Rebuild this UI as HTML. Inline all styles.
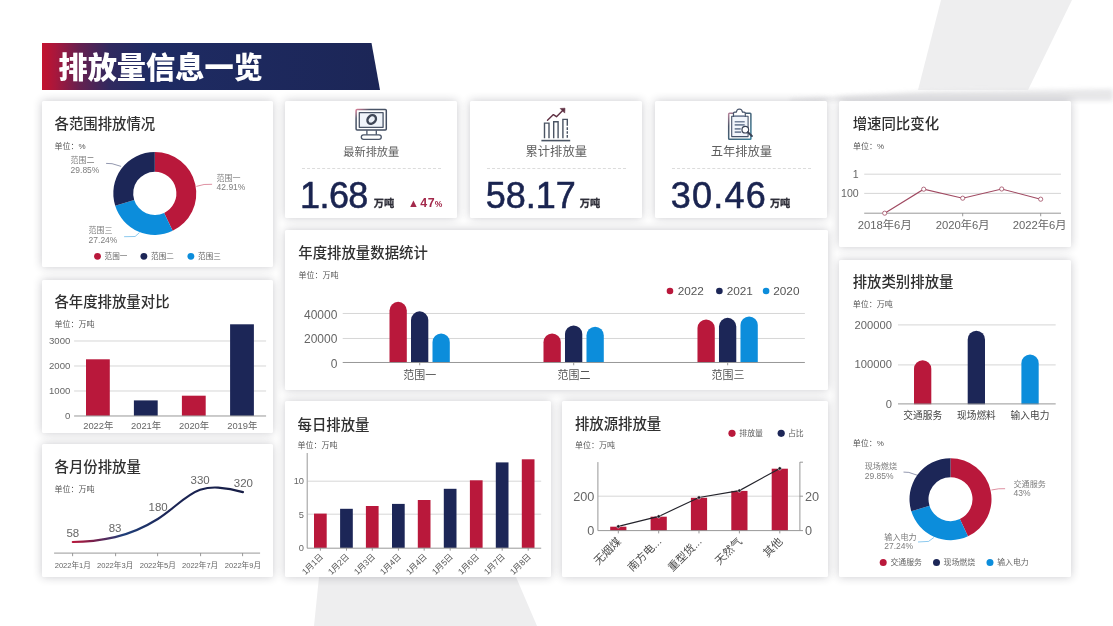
<!DOCTYPE html>
<html lang="zh-CN">
<head>
<meta charset="utf-8">
<title>排放量信息一览</title>
<style>
*{box-sizing:border-box;margin:0;padding:0}
html,body{width:1113px;height:626px;overflow:hidden;background:#fff}
body{font-family:"Liberation Sans","Noto Sans CJK SC",sans-serif;color:#333;position:relative}
#bg{position:absolute;left:0;top:0;width:1113px;height:626px}
.banner{position:absolute;left:42px;top:43px;width:338px;height:47px;
  background:linear-gradient(90deg,#c3132f 0%,#a8173c 4%,#66204f 11%,#30295f 20%,#1e2b63 32%,#1c2657 100%);
  clip-path:polygon(0 0,329.5px 0,338px 100%,0 100%);}
.banner h1{position:absolute;left:16.5px;top:5px;font-size:29.2px;line-height:40px;font-weight:900;color:#fff;white-space:nowrap;letter-spacing:0}
.card{position:absolute;background:#fff;border-radius:1.5px;box-shadow:0 0 10px rgba(30,30,45,.24)}
.card svg{position:absolute;left:0;top:0;width:100%;height:100%;overflow:visible}
.card h3{position:absolute;font-size:14.4px;line-height:20px;font-weight:500;color:#303030;white-space:nowrap}
.unit{position:absolute;font-size:8px;line-height:10px;color:#555;white-space:nowrap}
svg text{font-family:"Liberation Sans","Noto Sans CJK SC",sans-serif}
.kpi .lbl{position:absolute;left:0;width:100%;text-align:center;top:43.3px;font-size:11.2px;line-height:16px;color:#5e5e5e}
.kpi .dash{position:absolute;left:16.5px;right:16.5px;top:67.3px;border-top:1px dashed #dcdcdc}
.kpi .num{position:absolute;left:14.8px;top:75.1px;font-size:36px;line-height:40px;color:#1a2450;white-space:nowrap;letter-spacing:0;-webkit-text-stroke:.55px #1a2450}
.kpi .num small{font-size:10.2px;font-weight:700;letter-spacing:0;-webkit-text-stroke:.3px #2e2e38;color:#2e2e38;position:relative;top:-1px}
.kpi .up{position:absolute;top:95.1px;font-size:12.4px;line-height:14px;font-weight:700;color:#a3294b;white-space:nowrap;letter-spacing:.7px}
.kpi .up i{font-style:normal;font-size:11px;vertical-align:0;margin-right:1.2px;letter-spacing:0;line-height:10px}
.kpi .up b{font-size:8.5px;letter-spacing:0;margin-left:-.5px}
</style>
</head>
<body>
<svg id="bg" viewBox="0 0 1113 626">
  <defs>
    <linearGradient id="hb" x1="0" y1="0" x2="0" y2="1"><stop offset="0" stop-color="#e9e9ea" stop-opacity="0"/><stop offset=".55" stop-color="#e4e4e6" stop-opacity=".9"/><stop offset="1" stop-color="#f4f4f5" stop-opacity="0"/></linearGradient>
  <filter id="bl" x="-5%" y="-100%" width="110%" height="300%"><feGaussianBlur stdDeviation="2.2"/></filter>
  </defs>
  <polygon points="941,0 1072,0 1028,90 918,90" fill="#eeeeef"/>
  <polygon points="319,577 516,577 537,626 314,626" fill="#eeeeef"/>
  <polygon points="790,99 930,91 1113,89 1113,101 790,101" fill="#e3e3e5" filter="url(#bl)" opacity=".85"/>
</svg>

<div class="banner"><h1>排放量信息一览</h1></div>

<!-- card: 各范围排放情况 -->
<div class="card" style="left:41.9px;top:101.1px;width:230.9px;height:166.3px">
  <h3 style="left:12.6px;top:12.6px">各范围排放情况</h3>
  <div class="unit" style="left:12.6px;top:41.1px">单位：%</div>
  <svg viewBox="41.9 101.1 230.9 166.3">
    <path d="M154.70 152.00A41.5 41.5 0 0 1 172.58 230.95L164.01 212.99A21.6 21.6 0 0 0 154.70 171.90Z" fill="#b9183b"/>
    <path d="M172.58 230.95A41.5 41.5 0 0 1 115.11 205.95L134.10 199.98A21.6 21.6 0 0 0 164.01 212.99Z" fill="#0c8ddb"/>
    <path d="M115.11 205.95A41.5 41.5 0 0 1 154.70 152.00L154.70 171.90A21.6 21.6 0 0 0 134.10 199.98Z" fill="#1c2657"/>
    <g fill="none" stroke-width=".8">
      <path d="M196.2 186.5L204 184.6L212 184.4" stroke="#b9183b" stroke-opacity=".6"/>
      <path d="M121 166.5L112 163.8L106 163.5" stroke="#1c2657" stroke-opacity=".6"/>
      <path d="M139.5 232.6L135 236.6L124 236.8" stroke="#0c8ddb" stroke-opacity=".6"/>
    </g>
    <g font-size="8" fill="#7d7d7d">
      <text x="216.5" y="180.8">范围一</text><text x="216.5" y="190.6" font-size="8.5">42.91%</text>
      <text x="70.5" y="163.2">范围二</text><text x="70.5" y="173.2" font-size="8.5">29.85%</text>
      <text x="88.5" y="232.8">范围三</text><text x="88.5" y="242.8" font-size="8.5">27.24%</text>
    </g>
    <g font-size="7.6" fill="#666">
      <circle cx="97.4" cy="256.4" r="3.4" fill="#b9183b"/><text x="104.5" y="259.2">范围一</text>
      <circle cx="143.8" cy="256.4" r="3.4" fill="#1c2657"/><text x="151" y="259.2">范围二</text>
      <circle cx="190.8" cy="256.4" r="3.4" fill="#0c8ddb"/><text x="198" y="259.2">范围三</text>
    </g>
  </svg>
</div>
<!-- KPI cards -->
<div class="card kpi" style="left:285.3px;top:101.2px;width:171.9px;height:116.6px">
  <svg viewBox="285.3 101.2 171.9 116.6">
    <defs><linearGradient id="ig1" x1="0" y1="0" x2="1" y2="1"><stop offset="0" stop-color="#d98098"/><stop offset=".22" stop-color="#4a5568"/><stop offset="1" stop-color="#3f4a5e"/></linearGradient></defs>
    <g fill="none" stroke="url(#ig1)" stroke-width="1.5" stroke-linejoin="round">
      <rect x="356.4" y="109.7" width="30.2" height="20.6" rx="1"/>
      <rect x="359.6" y="112.9" width="23.8" height="14.6" fill="#f0f4fa" stroke="#4a5568" stroke-width="1.3"/>
      <path d="M367.2 130.5V135M376.6 130.5V135" stroke="#4a5568" stroke-width="1.3"/>
      <rect x="361.6" y="135" width="20" height="4.6" rx="2.3" stroke="#4a5568" stroke-width="1.3"/>
      <ellipse cx="372" cy="119.7" rx="4.6" ry="3.8" transform="rotate(-45 372 119.7)" stroke="#3f4757" stroke-width="2.5"/>
      <path d="M370.3 121.6L373.7 118" stroke="#e6ecf5" stroke-width="2" stroke-linecap="round"/>
    </g>
  </svg>
  <div class="lbl">最新排放量</div>
  <div class="dash"></div>
  <div class="num"><span style="letter-spacing:-.6px">1.68</span><small style="margin-left:6.1px">万吨</small></div>
  <div class="up" style="left:122.8px"><i>▲</i>47<b>%</b></div>
</div>
<div class="card kpi" style="left:470.3px;top:101.2px;width:171.9px;height:116.6px">
  <svg viewBox="470.3 101.2 171.9 116.6">
    <g fill="none" stroke="#4a5463" stroke-width="1.4" stroke-linejoin="miter">
      <path d="M544.8 138.4V123.3H549.3V138.4"/>
      <path d="M554 138.4V121.9H558.4V138.4"/>
      <path d="M563.2 138.4V119.6H567.6V126" />
      <path d="M567.6 127.5V138.4" stroke-dasharray="2.6 1.3"/>
      <path d="M541.7 140.8H570.5" stroke-width="1.6"/>
      <path d="M547.8 120.4L553.7 114.8L556.8 116.9L563 110.6" stroke="#5e2f42" stroke-linejoin="round" stroke-linecap="round"/>
      <path d="M560.5 108.7L565.3 108.4L565 113.3Z" fill="#5e2f42" stroke="#5e2f42" stroke-width=".6" stroke-linejoin="round"/>
    </g>
  </svg>
  <div class="lbl" style="font-size:12.3px">累计排放量</div>
  <div class="dash"></div>
  <div class="num" style="left:15.5px"><span style="letter-spacing:-.05px">58.17</span><small style="margin-left:4.2px">万吨</small></div>
</div>
<div class="card kpi" style="left:655.3px;top:101.2px;width:172.2px;height:116.6px">
  <svg viewBox="655.3 101.2 172.2 116.6">
    <defs><linearGradient id="ig3" x1="0" y1="0" x2="1" y2="1"><stop offset="0" stop-color="#b7849c"/><stop offset=".25" stop-color="#4a5568"/><stop offset="1" stop-color="#3a7f9a"/></linearGradient></defs>
    <g fill="none" stroke="#46536a" stroke-width="1.3" stroke-linejoin="round" stroke-linecap="round">
      <rect x="729" y="113.4" width="22.2" height="26" rx=".8" stroke="url(#ig3)" stroke-width="1.5"/>
      <rect x="732" y="116.4" width="16.4" height="20.4" fill="#f1f5fb" stroke-width="1.1"/>
      <path d="M733.8 116.6V113.6Q733.8 112.4 735 112.4H736.6Q737 109.4 739.7 109.2Q742.4 109.4 742.8 112.4H744.4Q745.6 112.4 745.6 113.6V116.6Z" fill="#fff" stroke-width="1.2"/>
      <path d="M735 116.2H744.4" stroke="#8a97ad" stroke-width="1.6"/>
      <path d="M735 122H745M735 125.1H745M735 129.1H741M735 132.3H741.5" stroke="#76849b" stroke-width="1.6" stroke-linecap="butt"/>
      <circle cx="745.6" cy="129.9" r="3.3" fill="#fff" stroke="#3a4356" stroke-width="1.2"/>
      <path d="M748.2 132.5L752.2 136.2" stroke="#3a4356" stroke-width="2"/>
    </g>
  </svg>
  <div class="lbl" style="font-size:12.3px">五年排放量</div>
  <div class="dash"></div>
  <div class="num" style="left:15.5px"><span style="letter-spacing:1.25px">30.46</span><small style="margin-left:2.8px">万吨</small></div>
</div>
<!-- card: 增速同比变化 -->
<div class="card" style="left:839.3px;top:101.3px;width:231.5px;height:146.2px">
  <h3 style="left:13.4px;top:12.5px">增速同比变化</h3>
  <div class="unit" style="left:13.7px;top:40.7px">单位：%</div>
  <svg viewBox="839.3 101.3 231.5 146.2">
    <g stroke="#cbcbcb" stroke-width=".8"><path d="M864.5 174.5H1061.3M864.5 193.7H1061.3"/></g>
    <path d="M864.5 213.5H1061.3M963 213.5V216.6M1041 213.5V216.6" stroke="#8c8c8c" stroke-width=".9" fill="none"/>
    <g font-size="10.6" fill="#666" text-anchor="end"><text x="859" y="178.4">1</text><text x="859" y="197.7">100</text></g>
    <polyline points="885,213.5 924,189.5 963,198.5 1002,189.3 1041,199.5" fill="none" stroke="#a04a62" stroke-width="1.15"/>
    <g fill="#fff" stroke="#a04a62" stroke-width=".8"><circle cx="885" cy="213.5" r="2.1"/><circle cx="924" cy="189.5" r="2.1"/><circle cx="963" cy="198.5" r="2.1"/><circle cx="1002" cy="189.3" r="2.1"/><circle cx="1041" cy="199.5" r="2.1"/></g>
    <g font-size="11.3" fill="#666" text-anchor="middle"><text x="885" y="229.4">2018年6月</text><text x="963" y="229.4">2020年6月</text><text x="1040" y="229.4">2022年6月</text></g>
  </svg>
</div>
<!-- card: 各年度排放量对比 -->
<div class="card" style="left:41.9px;top:279.5px;width:230.9px;height:153.6px">
  <h3 style="left:12.5px;top:12.6px">各年度排放量对比</h3>
  <div class="unit" style="left:12.6px;top:40.4px">单位：万吨</div>
  <svg viewBox="41.9 279.5 230.9 153.6">
    <g stroke="#cbcbcb" stroke-width=".8"><path d="M74 340.5H266M74 365.5H266M74 390.5H266"/></g>
    <g font-size="9.6" fill="#666" text-anchor="end"><text x="70.2" y="343.5">3000</text><text x="70.2" y="368.5">2000</text><text x="70.2" y="393.5">1000</text><text x="70.2" y="418.7">0</text></g>
    <rect x="85.9" y="358.8" width="23.8" height="56.5" fill="#b9183b"/>
    <rect x="133.8" y="399.9" width="23.8" height="15.4" fill="#1c2657"/>
    <rect x="181.8" y="395.2" width="23.8" height="20.1" fill="#b9183b"/>
    <rect x="230" y="323.8" width="23.8" height="91.5" fill="#1c2657"/>
    <path d="M74 415.5H266" stroke="#8c8c8c" stroke-width=".9"/>
    <g font-size="9.4" fill="#666" text-anchor="middle"><text x="98.2" y="429">2022年</text><text x="146" y="429">2021年</text><text x="194" y="429">2020年</text><text x="242.2" y="429">2019年</text></g>
  </svg>
</div>
<!-- card: 各月份排放量 -->
<div class="card" style="left:41.9px;top:444.4px;width:230.9px;height:132.6px">
  <h3 style="left:12.6px;top:12.4px">各月份排放量</h3>
  <div class="unit" style="left:12.6px;top:40.8px">单位：万吨</div>
  <svg viewBox="41.9 444.4 230.9 132.6">
    <defs><linearGradient id="lg" gradientUnits="userSpaceOnUse" x1="72" y1="0" x2="243" y2="0"><stop offset="0" stop-color="#b9183b"/><stop offset=".12" stop-color="#7a1f4a"/><stop offset=".3" stop-color="#1f3f7a"/><stop offset=".55" stop-color="#1c2657"/><stop offset="1" stop-color="#161d45"/></linearGradient></defs>
    <path d="M54 553.5H260M72.5 553.5V556.6M115.5 553.5V556.6M157.5 553.5V556.6M200.5 553.5V556.6M242.5 553.5V556.6" stroke="#8c8c8c" stroke-width=".9" fill="none"/>
    <path d="M72.7 542.4C90 542.4 100 540.8 115 537.5C132 533.5 144 528 157.7 519.4C174 509 186 495 200 490.2C207 488 212 487.6 218 488C228 488.6 236 490.5 242.8 492.5" fill="none" stroke="url(#lg)" stroke-width="2.2" stroke-linecap="round"/>
    <g font-size="11.5" fill="#666" text-anchor="middle"><text x="72.7" y="537.8">58</text><text x="115" y="532.6">83</text><text x="158" y="511">180</text><text x="200" y="484.6">330</text><text x="243.3" y="487.7">320</text></g>
    <g font-size="7.6" fill="#666" text-anchor="middle"><text x="72.7" y="568">2022年1月</text><text x="115" y="568">2022年3月</text><text x="157.7" y="568">2022年5月</text><text x="200" y="568">2022年7月</text><text x="242.8" y="568">2022年9月</text></g>
  </svg>
</div>
<!-- card: 年度排放量数据统计 -->
<div class="card" style="left:285.3px;top:230.0px;width:542.7px;height:159.7px">
  <h3 style="left:13px;top:12.9px">年度排放量数据统计</h3>
  <div class="unit" style="left:13.2px;top:40.8px">单位：万吨</div>
  <svg viewBox="285.3 230.0 542.7 159.7">
    <g stroke="#cbcbcb" stroke-width=".8"><path d="M343 313.5H805.2M343 338.5H805.2"/></g>
    <g font-size="12" fill="#666" text-anchor="end"><text x="337.6" y="319.1">40000</text><text x="337.6" y="343.4">20000</text><text x="337.6" y="367.8">0</text></g>
    <path d="M389.8 362.2V310.5A8.65 8.65 0 0 1 407.1 310.5V362.2Z" fill="#b9183b"/>
    <path d="M411.3 362.2V320.0A8.65 8.65 0 0 1 428.6 320.0V362.2Z" fill="#1c2657"/>
    <path d="M432.8 362.2V342.2A8.65 8.65 0 0 1 450.1 342.2V362.2Z" fill="#0c8ddb"/>
    <path d="M543.8 362.2V342.2A8.65 8.65 0 0 1 561.1 342.2V362.2Z" fill="#b9183b"/>
    <path d="M565.3 362.2V334.1A8.65 8.65 0 0 1 582.6 334.1V362.2Z" fill="#1c2657"/>
    <path d="M586.8 362.2V335.4A8.65 8.65 0 0 1 604.1 335.4V362.2Z" fill="#0c8ddb"/>
    <path d="M697.8 362.2V328.1A8.65 8.65 0 0 1 715.1 328.1V362.2Z" fill="#b9183b"/>
    <path d="M719.3 362.2V326.5A8.65 8.65 0 0 1 736.6 326.5V362.2Z" fill="#1c2657"/>
    <path d="M740.8 362.2V325.1A8.65 8.65 0 0 1 758.1 325.1V362.2Z" fill="#0c8ddb"/>
    <path d="M343 362.5H805.2M420 362.5V365.3M574 362.5V365.3M728 362.5V365.3" stroke="#8c8c8c" stroke-width=".9" fill="none"/>
    <g font-size="11" fill="#555" text-anchor="middle"><text x="420" y="379.1">范围一</text><text x="574.3" y="379.1">范围二</text><text x="728.3" y="379.1">范围三</text></g>
    <g font-size="11.8" fill="#555">
      <circle cx="670.3" cy="291" r="3.3" fill="#b9183b"/><text x="678" y="295.2">2022</text>
      <circle cx="719.7" cy="291" r="3.3" fill="#1c2657"/><text x="727" y="295.2">2021</text>
      <circle cx="766.4" cy="291" r="3.3" fill="#0c8ddb"/><text x="773.6" y="295.2">2020</text>
    </g>
  </svg>
</div>
<!-- card: 每日排放量 -->
<div class="card" style="left:285.3px;top:401.3px;width:265.5px;height:175.5px">
  <h3 style="left:12.2px;top:13.8px">每日排放量</h3>
  <div class="unit" style="left:12.3px;top:40.1px">单位：万吨</div>
  <svg viewBox="285.3 401.3 265.5 175.5">
    <g stroke="#cbcbcb" stroke-width=".8"><path d="M308 481.5H541.5M308 514.5H541.5"/></g>
    <g font-size="9.3" fill="#666" text-anchor="end"><text x="304.3" y="484.7">10</text><text x="304.3" y="518">5</text><text x="304.3" y="551.8">0</text></g>
    <rect x="314.3" y="513.9" width="12.7" height="34.3" fill="#b9183b"/>
    <rect x="340.4" y="509.1" width="12.7" height="39.1" fill="#1c2657"/>
    <rect x="366.2" y="506.3" width="12.7" height="41.9" fill="#b9183b"/>
    <rect x="392.3" y="504.2" width="12.7" height="44.0" fill="#1c2657"/>
    <rect x="418.1" y="500.3" width="12.7" height="47.9" fill="#b9183b"/>
    <rect x="444.1" y="489.1" width="12.7" height="59.1" fill="#1c2657"/>
    <rect x="470.2" y="480.6" width="12.7" height="67.6" fill="#b9183b"/>
    <rect x="496.1" y="462.7" width="12.7" height="85.5" fill="#1c2657"/>
    <rect x="522.1" y="459.6" width="12.7" height="88.6" fill="#b9183b"/>
    <path d="M307.5 453.3V548.5H541.5M320.7 548.2V551M346.8 548.2V551M372.6 548.2V551M398.7 548.2V551M424.5 548.2V551M450.5 548.2V551M476.6 548.2V551M502.5 548.2V551M528.5 548.2V551" stroke="#8c8c8c" stroke-width=".9" fill="none"/>
    <g font-size="8.5" fill="#555" text-anchor="end" letter-spacing="-.25">
      <text transform="translate(323.9 557.6) rotate(-45)">1月1日</text>
      <text transform="translate(349.9 557.6) rotate(-45)">1月2日</text>
      <text transform="translate(375.8 557.6) rotate(-45)">1月3日</text>
      <text transform="translate(401.9 557.6) rotate(-45)">1月4日</text>
      <text transform="translate(427.7 557.6) rotate(-45)">1月4日</text>
      <text transform="translate(453.7 557.6) rotate(-45)">1月5日</text>
      <text transform="translate(479.8 557.6) rotate(-45)">1月6日</text>
      <text transform="translate(505.7 557.6) rotate(-45)">1月7日</text>
      <text transform="translate(531.7 557.6) rotate(-45)">1月8日</text>
    </g>
  </svg>
</div>
<!-- card: 排放源排放量 -->
<div class="card" style="left:561.6px;top:401.3px;width:266.4px;height:175.5px">
  <h3 style="left:13.3px;top:13px">排放源排放量</h3>
  <div class="unit" style="left:13.5px;top:40.1px">单位：万吨</div>
  <svg viewBox="561.6 401.3 266.4 175.5">
    <path d="M597.7 496.5H799.9" stroke="#cbcbcb" stroke-width=".8"/>
    <g font-size="12.7" fill="#666"><text x="594" y="501.2" text-anchor="end">200</text><text x="594" y="535" text-anchor="end">0</text><text x="804.5" y="501.2">20</text><text x="804.5" y="535">0</text></g>
    <rect x="609.8" y="527.0" width="16.2" height="3.9" fill="#b9183b"/>
    <rect x="650.2" y="517.0" width="16.2" height="13.9" fill="#b9183b"/>
    <rect x="690.5" y="498.1" width="16.2" height="32.8" fill="#b9183b"/>
    <rect x="730.9" y="491.2" width="16.2" height="39.7" fill="#b9183b"/>
    <rect x="771.3" y="469.0" width="16.2" height="61.9" fill="#b9183b"/>
    <path d="M597.5 462.4V530.9H799.5V462.4M799.5 462.5H802.6M799.5 496.5H802.6M799.5 530.9H802.6M617.9 530.9V533.7M658.3 530.9V533.7M698.6 530.9V533.7M739.0 530.9V533.7M779.4 530.9V533.7" stroke="#8c8c8c" stroke-width=".9" fill="none"/>
    <polyline points="617.9,526.7 658.3,516.7 698.6,497.8 739.0,490.9 779.4,468.7" fill="none" stroke="#23232b" stroke-width="1.15"/>
    <g fill="#1a1a22" stroke="#fff" stroke-width=".5"><circle cx="617.9" cy="526.7" r="1.7"/><circle cx="658.3" cy="516.7" r="1.7"/><circle cx="698.6" cy="497.8" r="1.7"/><circle cx="739.0" cy="490.9" r="1.7"/><circle cx="779.4" cy="468.7" r="1.7"/></g>
    <g font-size="11" fill="#4c4c4c" text-anchor="end">
      <text transform="translate(621.3 542.5) rotate(-45)">无烟煤</text>
      <text transform="translate(661.7 542.5) rotate(-45)">南方电...</text>
      <text transform="translate(702.0 542.5) rotate(-45)">重型货...</text>
      <text transform="translate(742.4 542.5) rotate(-45)">天然气</text>
      <text transform="translate(782.8 542.5) rotate(-45)">其他</text>
    </g>
    <g font-size="7.9" fill="#5a5a5a">
      <circle cx="731.6" cy="433.6" r="3.6" fill="#b9183b"/><text x="738.9" y="436.5">排放量</text>
      <circle cx="780.8" cy="433.6" r="3.6" fill="#1c2657"/><text x="787.6" y="436.5">占比</text>
    </g>
  </svg>
</div>
<!-- card: 排放类别排放量 -->
<div class="card" style="left:839.3px;top:259.6px;width:231.5px;height:317.2px">
  <h3 style="left:13.4px;top:12.5px">排放类别排放量</h3>
  <div class="unit" style="left:13.5px;top:40.4px">单位：万吨</div>
  <div class="unit" style="left:13.5px;top:179.3px">单位：%</div>
  <svg viewBox="839.3 259.6 231.5 317.2">
    <g stroke="#cbcbcb" stroke-width=".8"><path d="M898.3 324.5H1056M898.3 364.5H1056"/></g>
    <g font-size="11.2" fill="#666" text-anchor="end"><text x="892.2" y="328.3">200000</text><text x="892.2" y="368.1">100000</text><text x="892.2" y="407.9">0</text></g>
    <path d="M914.3 403.8V368.4A8.65 8.65 0 0 1 931.6 368.4V403.8Z" fill="#b9183b"/>
    <path d="M968.0 403.8V339.0A8.65 8.65 0 0 1 985.3 339.0V403.8Z" fill="#1c2657"/>
    <path d="M1021.7 403.8V362.8A8.65 8.65 0 0 1 1039.0 362.8V403.8Z" fill="#0c8ddb"/>
    <path d="M898.3 403.5H1056" stroke="#8c8c8c" stroke-width=".9"/>
    <g font-size="9.7" fill="#444" text-anchor="middle"><text x="923" y="418.9">交通服务</text><text x="976.7" y="418.9">现场燃料</text><text x="1030.3" y="418.9">输入电力</text></g>
    <path d="M950.80 457.80A41 41 0 0 1 968.26 535.90L960.17 518.71A22 22 0 0 0 950.80 476.80Z" fill="#b9183b"/>
    <path d="M968.26 535.90A41 41 0 0 1 911.62 510.88L929.78 505.28A22 22 0 0 0 960.17 518.71Z" fill="#0c8ddb"/>
    <path d="M911.62 510.88A41 41 0 0 1 950.80 457.80L950.80 476.80A22 22 0 0 0 929.78 505.28Z" fill="#1c2657"/>
    <g fill="none" stroke-width=".8">
      <path d="M991.7 489.6L999 488.4L1005.4 488.3" stroke="#b9183b" stroke-opacity=".6"/>
      <path d="M918.3 475.1L909.1 472L903.8 471.7" stroke="#1c2657" stroke-opacity=".6"/>
      <path d="M934.2 537.1L928.9 541L918.3 541.6" stroke="#0c8ddb" stroke-opacity=".6"/>
    </g>
    <g font-size="8.1" fill="#7d7d7d">
      <text x="865" y="468.8">现场燃烧</text><text x="865" y="478.2" font-size="8.5">29.85%</text>
      <text x="1013.8" y="486.4">交通服务</text><text x="1013.8" y="495.9" font-size="8.5">43%</text>
      <text x="884.6" y="539.5">输入电力</text><text x="884.6" y="548.8" font-size="8.5">27.24%</text>
    </g>
    <g font-size="7.9" fill="#666">
      <circle cx="883.5" cy="562.1" r="3.5" fill="#b9183b"/><text x="890.7" y="565">交通服务</text>
      <circle cx="936.8" cy="562.1" r="3.5" fill="#1c2657"/><text x="943.9" y="565">现场燃烧</text>
      <circle cx="990.3" cy="562.1" r="3.5" fill="#0c8ddb"/><text x="997.5" y="565">输入电力</text>
    </g>
  </svg>
</div>

</body>
</html>
